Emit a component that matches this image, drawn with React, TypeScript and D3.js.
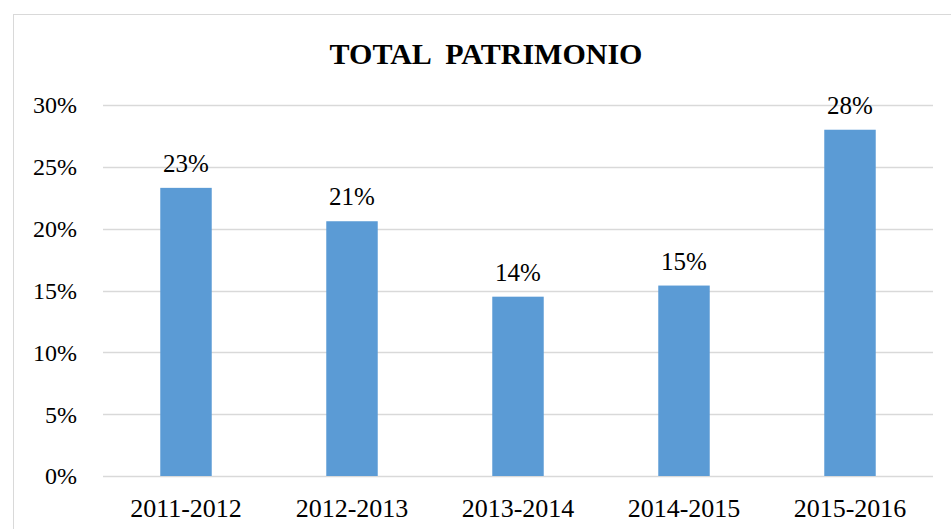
import React from "react";
import * as d3 from "d3";

const categories = ["2011-2012", "2012-2013", "2013-2014", "2014-2015", "2015-2016"];
const values = [0.233, 0.206, 0.145, 0.154, 0.28];
const yTicks = [0, 0.05, 0.1, 0.15, 0.2, 0.25, 0.3];
const title = "TOTAL  PATRIMONIO";

export default function App() {
  const W = 951, H = 529;
  const left = 103, right = 933, top = 105, bottom = 476;
  const x = d3.scaleBand<string>().domain(categories).range([left, right]).paddingInner(0.69).paddingOuter(0.345);
  const y = d3.scaleLinear().domain([0, 0.3]).range([bottom, top]);
  const font = "'Liberation Serif', 'Times New Roman', serif";
  const fmt = d3.format(".0%");
  return (
    <svg width={W} height={H} style={{ position: "fixed", left: 0, top: 0, background: "#fff" }}>
      <rect x={13.5} y={14.5} width={W} height={H} fill="#fff" stroke="#d9d9d9" strokeWidth={1} />
      <text x={486} y={64} textAnchor="middle" fontFamily={font} fontWeight="bold" fontSize={30} fill="#000" style={{ whiteSpace: "pre" }}>{title}</text>
      {yTicks.map((t) => (
        <g key={t}>
          <line x1={left} x2={right} y1={Math.round(y(t)) + 0.5} y2={Math.round(y(t)) + 0.5} stroke="#d9d9d9" strokeWidth={1.5} />
          <text x={77} y={y(t)} dy="0.35em" textAnchor="end" fontFamily={font} fontSize={24} fill="#000">{fmt(t)}</text>
        </g>
      ))}
      {categories.map((c, i) => (
        <g key={c}>
          <rect x={x(c)} y={y(values[i])} width={x.bandwidth()} height={bottom - y(values[i])} fill="#5b9bd5" />
          <text x={(x(c) as number) + x.bandwidth() / 2} y={y(values[i]) - 16} textAnchor="middle" fontFamily={font} fontSize={25} fill="#000">{fmt(values[i])}</text>
          <text x={(x(c) as number) + x.bandwidth() / 2} y={517} textAnchor="middle" fontFamily={font} fontSize={26} fill="#000">{c}</text>
        </g>
      ))}
    </svg>
  );
}
